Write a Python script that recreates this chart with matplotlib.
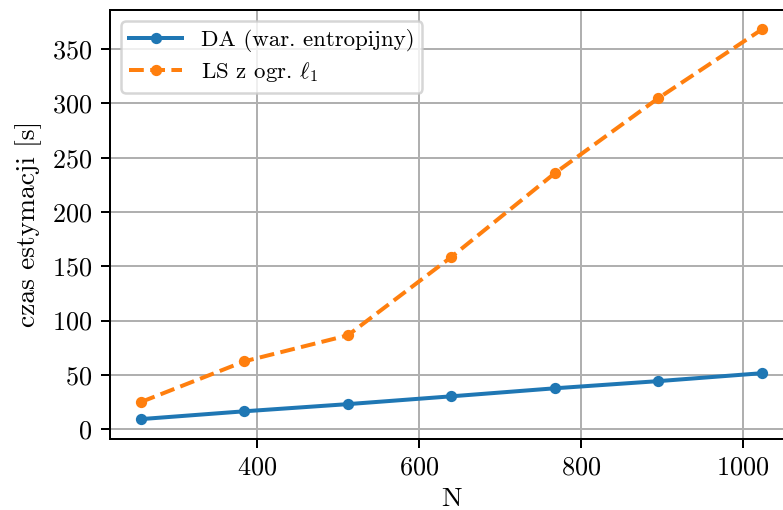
import numpy as np
import matplotlib.pyplot as plt
from matplotlib.ticker import MultipleLocator

plt.rcParams['font.family'] = ['cmr10', 'DejaVu Serif']
plt.rcParams['mathtext.fontset'] = 'cm'
plt.rcParams['axes.formatter.use_mathtext'] = True

# data
N = [256, 384, 512, 640, 768, 896, 1024]
t_da = [9.2, 16.4, 23.0, 30.2, 37.6, 44.2, 51.5]
t_ls = [24.9, 62.4, 86.4, 158.6, 235.8, 304.9, 368.2]

fig = plt.figure(figsize=(784 / 180, 510 / 180), dpi=180)
ax = fig.add_axes([0.140, 0.140, 0.8715, 0.8406])

ax.plot(N, t_da, '-o', color='#1f77b4', markersize=3.5, linewidth=1.6,
        label='DA (war. entropijny)')
ax.plot(N, t_ls, '--o', color='#ff7f0e', markersize=3.5, linewidth=1.6,
        label=r'LS z ogr. $\ell_1$')

ax.xaxis.set_major_locator(MultipleLocator(200))
ax.tick_params(labelsize=10.5)
ax.set_xlabel('N', fontsize=11, labelpad=3)
ax.set_ylabel('czas estymacji [s]', fontsize=11)
ax.grid(True)
ax.legend(loc='upper left', fontsize=9.2, handlelength=2.3, labelspacing=0.35,
          borderpad=0.35)

fig.savefig('out.png', dpi=180)
